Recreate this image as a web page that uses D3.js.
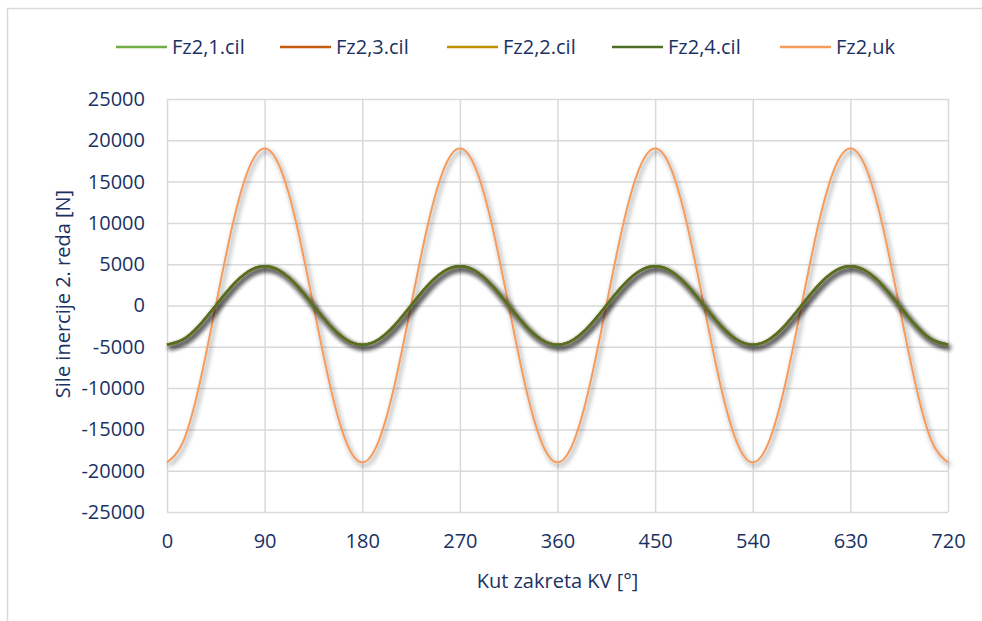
<!DOCTYPE html>
<html>
<head>
<meta charset="utf-8">
<script src="https://cdn.jsdelivr.net/npm/d3@7"></script>
<style>
  body { margin: 0; background: #fff; }
  text { font-family: "Open Sans", sans-serif; fill: #1a3263; }
</style>
</head>
<body>
<div id="chart"></div>
<script>
// crank angle [deg], sampled every 15 deg
const angles = [0,15,30,45,60,75,90,105,120,135,150,165,180,195,210,225,240,255,270,285,300,315,330,345,360,
  375,390,405,420,435,450,465,480,495,510,525,540,555,570,585,600,615,630,645,660,675,690,705,720];

// 2nd order inertia force per cylinder [N] (all four cylinders in phase)
const fzCyl1 = [-4750,-4110,-2375,0,2375,4110,4750,4110,2375,0,-2375,-4110,-4750,-4110,-2375,0,2375,4110,4750,4110,2375,0,-2375,-4110,-4750,
  -4110,-2375,0,2375,4110,4750,4110,2375,0,-2375,-4110,-4750,-4110,-2375,0,2375,4110,4750,4110,2375,0,-2375,-4110,-4750];
const fzCyl3 = [-4750,-4110,-2375,0,2375,4110,4750,4110,2375,0,-2375,-4110,-4750,-4110,-2375,0,2375,4110,4750,4110,2375,0,-2375,-4110,-4750,
  -4110,-2375,0,2375,4110,4750,4110,2375,0,-2375,-4110,-4750,-4110,-2375,0,2375,4110,4750,4110,2375,0,-2375,-4110,-4750];
const fzCyl2 = [-4750,-4110,-2375,0,2375,4110,4750,4110,2375,0,-2375,-4110,-4750,-4110,-2375,0,2375,4110,4750,4110,2375,0,-2375,-4110,-4750,
  -4110,-2375,0,2375,4110,4750,4110,2375,0,-2375,-4110,-4750,-4110,-2375,0,2375,4110,4750,4110,2375,0,-2375,-4110,-4750];
const fzCyl4 = [-4750,-4110,-2375,0,2375,4110,4750,4110,2375,0,-2375,-4110,-4750,-4110,-2375,0,2375,4110,4750,4110,2375,0,-2375,-4110,-4750,
  -4110,-2375,0,2375,4110,4750,4110,2375,0,-2375,-4110,-4750,-4110,-2375,0,2375,4110,4750,4110,2375,0,-2375,-4110,-4750];
// total
const fzTotal = [-19000,-16450,-9500,0,9500,16450,19000,16450,9500,0,-9500,-16450,-19000,-16450,-9500,0,9500,16450,19000,16450,9500,0,-9500,-16450,-19000,
  -16450,-9500,0,9500,16450,19000,16450,9500,0,-9500,-16450,-19000,-16450,-9500,0,9500,16450,19000,16450,9500,0,-9500,-16450,-19000];

const seriesNames = ['Fz2,1.cil', 'Fz2,3.cil', 'Fz2,2.cil', 'Fz2,4.cil', 'Fz2,uk'];
const xTicks = [0,90,180,270,360,450,540,630,720];
const yTicks = [-25000,-20000,-15000,-10000,-5000,0,5000,10000,15000,20000,25000];

const colors = ['#70ad47', '#c55a11', '#bf9000', '#4f6f28', '#f59b5c'];
const widths = [2.5, 2.5, 2.5, 2.5, 2];
const seriesValues = [fzCyl1, fzCyl3, fzCyl2, fzCyl4, fzTotal];

const width = 982, height = 621;
const margin = {top: 99, right: 34, bottom: 109, left: 167};

const svg = d3.select('#chart').append('svg')
  .attr('width', width)
  .attr('height', height);

const defs = svg.append('defs');
const shadow = defs.append('filter').attr('id', 'shadow')
  .attr('x', '-10%').attr('y', '-10%').attr('width', '120%').attr('height', '130%');
shadow.append('feGaussianBlur').attr('in', 'SourceAlpha').attr('stdDeviation', 2.4).attr('result', 'blur');
shadow.append('feOffset').attr('in', 'blur').attr('dx', 1.5).attr('dy', 2.5).attr('result', 'off');
shadow.append('feComponentTransfer').attr('in', 'off').attr('result', 'sh')
  .append('feFuncA').attr('type', 'linear').attr('slope', 0.5);
const merge = shadow.append('feMerge');
merge.append('feMergeNode').attr('in', 'sh');
merge.append('feMergeNode').attr('in', 'SourceGraphic');

// outer chart frame
svg.append('rect')
  .attr('x', 7.5).attr('y', 8.5)
  .attr('width', width + 20).attr('height', height + 20)
  .attr('fill', 'none')
  .attr('stroke', '#d9d9d9')
  .attr('stroke-width', 1.5);

const x = d3.scaleLinear().domain([0, 720]).range([margin.left, width - margin.right]);
const y = d3.scaleLinear().domain([-25000, 25000]).range([height - margin.bottom, margin.top]);

//gridlines
svg.append('g')
  .attr('transform', 'translate(' + margin.left + ',0)')
  .call(d3.axisLeft(y).tickValues(yTicks).tickSize(-(width - margin.right - margin.left)).tickFormat(''))
  .call(g => g.select('.domain').remove())
  .call(g => g.selectAll('line').attr('stroke', '#d9d9d9').attr('stroke-width', 1.5));
svg.append('g')
  .attr('transform', 'translate(0,' + margin.top + ')')
  .call(d3.axisBottom(x).tickValues(xTicks).tickSize(height - margin.bottom - margin.top).tickFormat(''))
  .call(g => g.select('.domain').remove())
  .call(g => g.selectAll('line').attr('stroke', '#d9d9d9').attr('stroke-width', 1.5));

// tick labels
svg.append('g')
  .attr('transform', 'translate(' + margin.left + ',0)')
  .call(d3.axisLeft(y).tickValues(yTicks).tickSize(0).tickPadding(22).tickFormat(d => String(d)))
  .call(g => g.select('.domain').remove())
  .call(g => g.selectAll('text').attr('font-size', 20).style('fill', '#1a3263'));
svg.append('g')
  .attr('transform', 'translate(0,' + (height - margin.bottom) + ')')
  .call(d3.axisBottom(x).tickValues(xTicks).tickSize(0).tickPadding(22).tickFormat(d => String(d)))
  .call(g => g.select('.domain').remove())
  .call(g => g.selectAll('text').attr('font-size', 20).style('fill', '#1a3263'));

// lines
const line = d3.line()
  .x(d => x(d[0]))
  .y(d => y(d[1]))
  .curve(d3.curveNatural);

const lineOrder = [4, 0, 1, 2, 3];
lineOrder.forEach(i => {
  const pts = angles.map((a, k) => [a, seriesValues[i][k]]);
  svg.append('path')
    .datum(pts)
    .attr('d', line)
    .attr('fill', 'none')
    .attr('stroke', colors[i])
    .attr('stroke-width', widths[i])
    .attr('filter', 'url(#shadow)');
});

// legend
const legendX = [116, 280, 447, 612, 780];
const legend = svg.append('g');
seriesNames.forEach((name, i) => {
  const g = legend.append('g').attr('transform', 'translate(' + legendX[i] + ',47)');
  g.append('line')
    .attr('x1', 0).attr('x2', 51)
    .attr('stroke', colors[i])
    .attr('stroke-width', 2.5);
  g.append('text')
    .attr('x', 56).attr('y', 7)
    .attr('font-size', 20)
    .text(name);
});

// axis titles
svg.append('text')
  .attr('x', (margin.left + width - margin.right) / 2)
  .attr('y', 588)
  .attr('text-anchor', 'middle')
  .attr('font-size', 20)
  .text('Kut zakreta KV [°]');
svg.append('text')
  .attr('transform', 'translate(70,294) rotate(-90)')
  .attr('text-anchor', 'middle')
  .attr('font-size', 20)
  .text('Sile inercije 2. reda [N]');
</script>
</body>
</html>
